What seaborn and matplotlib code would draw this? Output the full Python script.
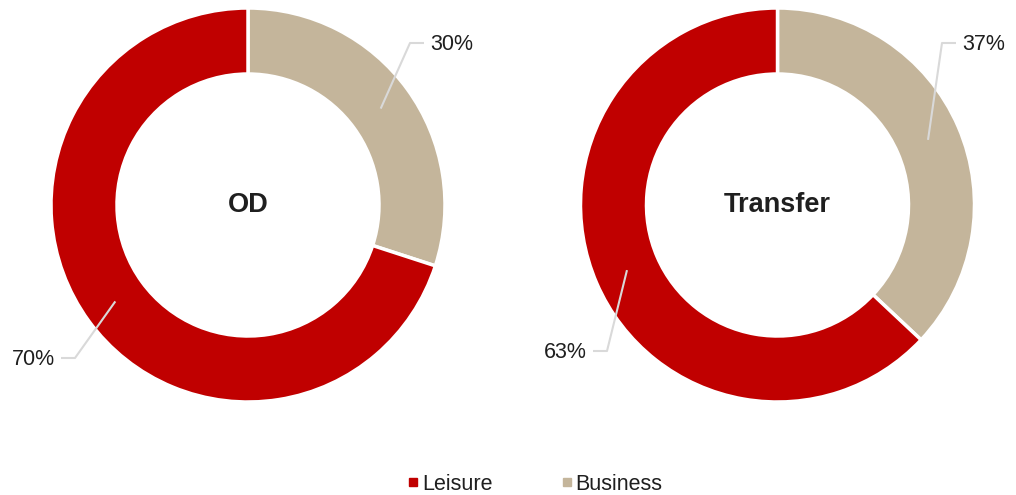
import numpy as np
import matplotlib
matplotlib.use('Agg')
import matplotlib.pyplot as plt
from matplotlib.lines import Line2D
import seaborn as sns

# Data
charts = ['OD', 'Transfer']
segments = ['Business', 'Leisure']
business = [30, 37]
leisure = [70, 63]

sns.set_theme(style='white')
plt.rcParams['font.family'] = ['Liberation Sans', 'DejaVu Sans']
colors = {'Leisure': '#C00000', 'Business': '#C4B59B'}
text_color = '#1F1F1F'
line_color = '#D9D9D9'

W, H = 1016, 495
R = 197.0  # outer radius in px
fig = plt.figure(figsize=(W / 100, H / 100), dpi=100)

# (axes left px, axes width px, donut centre x px, centre y px from top)
layout = [(0, 508, 248, 205), (508, 508, 777.5, 205)]
# label elbow positions in px (x, y from top), one per segment
elbows = [
    {'Business': (410, 43), 'Leisure': (75, 358)},
    {'Business': (942, 43), 'Leisure': (607, 351)},
]

for i, name in enumerate(charts):
    left, width, cx, cy = layout[i]
    ax = fig.add_axes([left / W, 0, width / W, 1])
    ax.axis('off')

    vals = [business[i], leisure[i]]
    wedges, _ = ax.pie(vals, colors=[colors[s] for s in segments],
                       startangle=90, counterclock=False, radius=1,
                       wedgeprops=dict(width=0.335, edgecolor='white', linewidth=2.5))
    ax.set_aspect('auto')
    ax.set_xlim(-(cx - left) / R, (left + width - cx) / R)
    ax.set_ylim(-(H - cy) / R, cy / R)

    ax.text(0, 0, name, ha='center', va='center', fontsize=19.5,
            fontweight='bold', color=text_color)

    for w, seg, v in zip(wedges, segments, vals):
        mid = np.deg2rad((w.theta1 + w.theta2) / 2)
        rm = 1 - 0.335 / 2
        sx, sy = rm * np.cos(mid), rm * np.sin(mid)
        ex, ey = elbows[i][seg]
        ex, ey = (ex - cx) / R, (cy - ey) / R
        side = 1 if ex > 0 else -1
        hx = ex + side * 14 / R
        ax.plot([sx, ex, hx], [sy, ey, ey], color=line_color, lw=1.5,
                solid_capstyle='butt', zorder=3)
        ax.text(hx + side * 6 / R, ey - 1.5 / R, f'{v}%', ha='left' if side > 0 else 'right',
                va='center', fontsize=15.5, color=text_color)

handles = [Line2D([], [], marker='s', linestyle='none', markersize=6,
                  markerfacecolor=colors[s], markeredgecolor=colors[s])
           for s in ['Leisure', 'Business']]
fig.legend(handles, ['Leisure', 'Business'], loc='center', bbox_to_anchor=(535 / W, 1 - 484 / H),
           ncol=2, frameon=False, fontsize=15.5, handlelength=0.5, handletextpad=0.15,
           columnspacing=3.2, labelcolor=text_color)

fig.savefig('out.png', dpi=100)
